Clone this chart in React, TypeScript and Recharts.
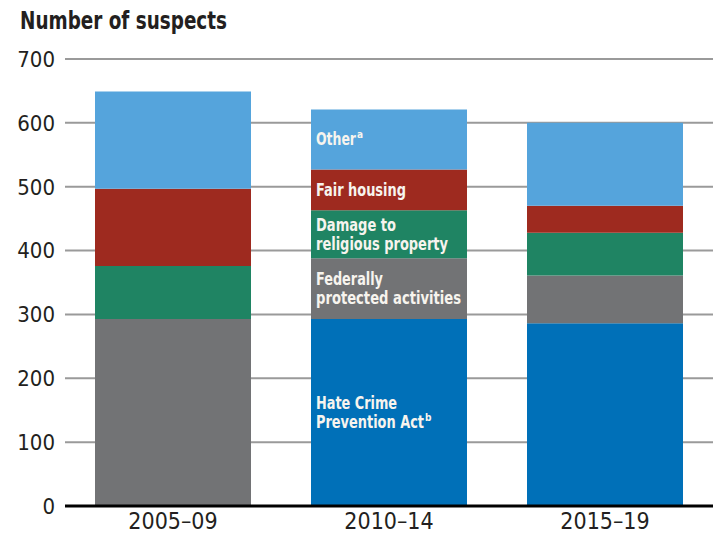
import React from 'react';
import { BarChart, Bar, XAxis, YAxis, CartesianGrid, LabelList } from 'recharts';

const categories = ['2005–09', '2010–14', '2015–19'];
const hateCrimePrevention = [0, 293, 286];
const federallyProtected = [293, 95, 75];
const damageReligious = [83, 75, 67];
const fairHousing = [121, 64, 42];
const otherOffenses = [152, 94, 130];
const yTicks = [0, 100, 200, 300, 400, 500, 600, 700];
const labelledPeriod = '2010–14';

const data = categories.map((c, i) => ({
  period: c,
  hcpa: hateCrimePrevention[i],
  fpa: federallyProtected[i],
  damage: damageReligious[i],
  fair: fairHousing[i],
  other: otherOffenses[i],
}));

const FONT = '"DejaVu Sans Condensed", "DejaVu Sans", sans-serif';
const TXT = '#231f20';

type Line = { text: string; w: number; sup?: string };

const makeLabel = (lines: Line[]) => (props: any) => {
  const { x, y, height, value } = props;
  if (value !== labelledPeriod) return null;
  const lh = 19;
  const cy = Number(y) + Number(height) / 2;
  const first = cy - ((lines.length - 1) * lh) / 2 + 6;
  const lx = Number(x) + 5;
  return (
    <g>
      {lines.map((l, i) => (
        <text
          key={i}
          x={lx}
          y={first + i * lh}
          fill="#f7f4ee"
          fontFamily={FONT}
          fontSize={17}
          fontWeight="bold"
        >
          <tspan textLength={l.w} lengthAdjust="spacingAndGlyphs">
            {l.text}
          </tspan>
          {l.sup ? (
            <tspan x={lx + l.w + 1} dy={-7} fontSize={10}>
              {l.sup}
            </tspan>
          ) : null}
        </text>
      ))}
    </g>
  );
};

export default function App() {
  return (
    <div style={{ position: 'absolute', left: 0, top: 0, width: 715, height: 539, background: '#fff' }}>
      <svg width={715} height={40} style={{ position: 'absolute', left: 0, top: 0 }}>
        <text
          x={20}
          y={29}
          fontFamily={FONT}
          fontSize={25}
          fontWeight="bold"
          fill={TXT}
          textLength={207}
          lengthAdjust="spacingAndGlyphs"
        >
          Number of suspects
        </text>
      </svg>
      <div style={{ position: 'absolute', left: 0, top: 0 }}>
        <BarChart
          width={715}
          height={539}
          data={data}
          margin={{ top: 59, right: 2, bottom: 0, left: 0 }}
          barCategoryGap={30}
        >
          <CartesianGrid horizontal vertical={false} stroke="#9a9a9a" strokeWidth={2} />
          <XAxis
            dataKey="period"
            height={33}
            tickLine={false}
            axisLine={{ stroke: '#000', strokeWidth: 3 }}
            tickMargin={1}
            tick={{ fill: TXT, fontSize: 23, fontFamily: FONT }}
          />
          <YAxis
            width={65}
            domain={[0, 700]}
            ticks={yTicks}
            tickLine={false}
            axisLine={false}
            tickMargin={4}
            tick={{ fill: TXT, fontSize: 22, fontFamily: FONT }}
          />
          <Bar dataKey="hcpa" stackId="s" fill="#0070b8" isAnimationActive={false}>
            <LabelList
              dataKey="period"
              content={makeLabel([
                { text: 'Hate Crime', w: 81 },
                { text: 'Prevention Act', w: 108, sup: 'b' },
              ])}
            />
          </Bar>
          <Bar dataKey="fpa" stackId="s" fill="#727375" isAnimationActive={false}>
            <LabelList
              dataKey="period"
              content={makeLabel([
                { text: 'Federally', w: 67 },
                { text: 'protected activities', w: 145 },
              ])}
            />
          </Bar>
          <Bar dataKey="damage" stackId="s" fill="#1f8463" isAnimationActive={false}>
            <LabelList
              dataKey="period"
              content={makeLabel([
                { text: 'Damage to', w: 80 },
                { text: 'religious property', w: 132 },
              ])}
            />
          </Bar>
          <Bar dataKey="fair" stackId="s" fill="#9e2a1f" isAnimationActive={false}>
            <LabelList dataKey="period" content={makeLabel([{ text: 'Fair housing', w: 90 }])} />
          </Bar>
          <Bar dataKey="other" stackId="s" fill="#55a4dc" isAnimationActive={false}>
            <LabelList dataKey="period" content={makeLabel([{ text: 'Other', w: 40, sup: 'a' }])} />
          </Bar>
        </BarChart>
      </div>
    </div>
  );
}
